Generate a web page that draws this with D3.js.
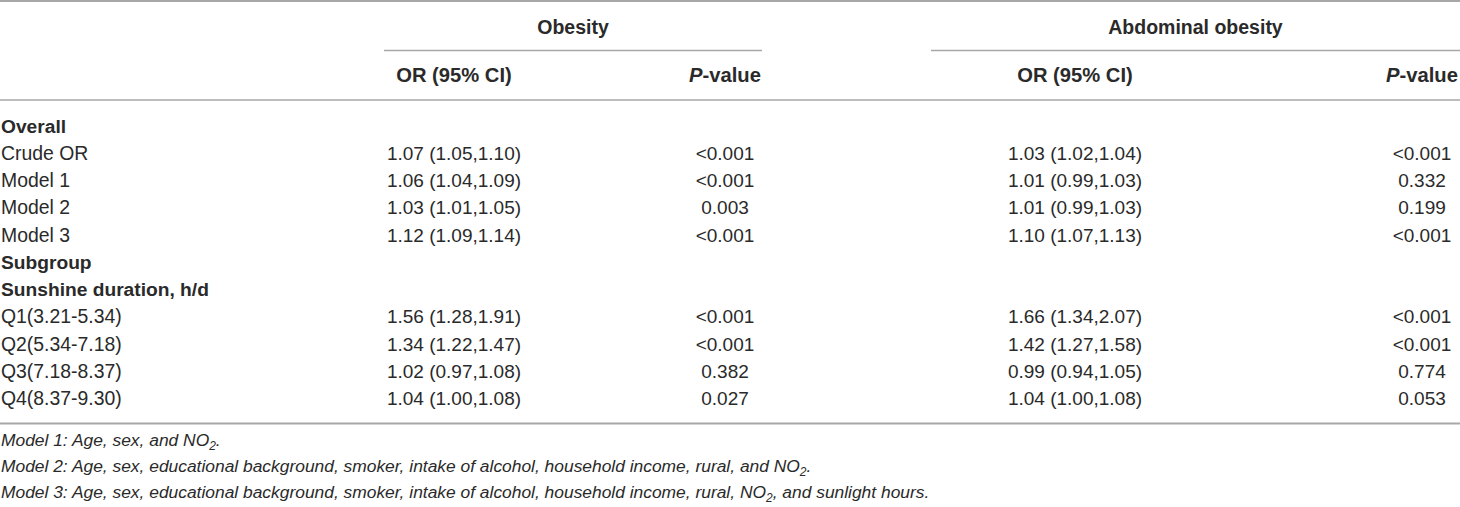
<!DOCTYPE html>
<html>
<head>
<meta charset="utf-8">
<script src="https://cdn.jsdelivr.net/npm/d3@7"></script>
<style>
  html, body { margin: 0; padding: 0; background: #fff; }
  svg { display: block; font-family: "Liberation Sans", Arial, Helvetica, sans-serif; }
</style>
</head>
<body>
<div id="chart"></div>
<script>
// ---- Data ----
const groupHeaders = ["Obesity", "Abdominal obesity"];
const columnHeaders = ["OR (95% CI)", "P-value", "OR (95% CI)", "P-value"];
const rowLabels = [
  "Overall", "Crude OR", "Model 1", "Model 2", "Model 3",
  "Subgroup", "Sunshine duration, h/d",
  "Q1(3.21-5.34)", "Q2(5.34-7.18)", "Q3(7.18-8.37)", "Q4(8.37-9.30)"
];
const sectionRows = ["Overall", "Subgroup", "Sunshine duration, h/d"];
const obesityOR = ["", "1.07 (1.05,1.10)", "1.06 (1.04,1.09)", "1.03 (1.01,1.05)", "1.12 (1.09,1.14)",
  "", "", "1.56 (1.28,1.91)", "1.34 (1.22,1.47)", "1.02 (0.97,1.08)", "1.04 (1.00,1.08)"];
const obesityP = ["", "<0.001", "<0.001", "0.003", "<0.001",
  "", "", "<0.001", "<0.001", "0.382", "0.027"];
const abdominalOR = ["", "1.03 (1.02,1.04)", "1.01 (0.99,1.03)", "1.01 (0.99,1.03)", "1.10 (1.07,1.13)",
  "", "", "1.66 (1.34,2.07)", "1.42 (1.27,1.58)", "0.99 (0.94,1.05)", "1.04 (1.00,1.08)"];
const abdominalP = ["", "<0.001", "0.332", "0.199", "<0.001",
  "", "", "<0.001", "<0.001", "0.774", "0.053"];
const footnotes = [
  ["Model 1: Age, sex, and NO", "2", "."],
  ["Model 2: Age, sex, educational background, smoker, intake of alcohol, household income, rural, and NO", "2", "."],
  ["Model 3: Age, sex, educational background, smoker, intake of alcohol, household income, rural, NO", "2", ", and sunlight hours."]
];

// ---- Layout ----
const W = 1460, H = 507;
const svg = d3.select("#chart").append("svg").attr("width", W).attr("height", H);

const colKeys = ["label", "obOR", "obP", "abOR", "abP"];
const colX = d3.scaleOrdinal().domain(colKeys).range([1, 454, 725, 1075, 1422]);
const groupSpan = [[384, 762], [931, 1460]];

const y = d3.scalePoint().domain(d3.range(rowLabels.length)).range([132.5, 405]);

const textColor = "#2a2a2a";
const lineColor = "#a7a7a7";

// rules
const rules = [
  {x1: 0, x2: W, y: 1, w: 2},
  {x1: groupSpan[0][0], x2: groupSpan[0][1], y: 50.5, w: 1.5},
  {x1: groupSpan[1][0], x2: groupSpan[1][1], y: 50.5, w: 1.5},
  {x1: 0, x2: W, y: 100, w: 1.5},
  {x1: 0, x2: W, y: 423.5, w: 2}
];
svg.selectAll("line.rule").data(rules).join("line")
  .attr("class", "rule")
  .attr("x1", d => d.x1).attr("x2", d => d.x2)
  .attr("y1", d => d.y).attr("y2", d => d.y)
  .attr("stroke", lineColor).attr("stroke-width", d => d.w);

// group headers
svg.selectAll("text.group").data(groupHeaders).join("text")
  .attr("class", "group")
  .attr("x", (d, i) => (groupSpan[i][0] + groupSpan[i][1]) / 2)
  .attr("y", 34)
  .attr("text-anchor", "middle")
  .attr("font-weight", "bold")
  .attr("font-size", 19.5)
  .attr("fill", textColor)
  .text(d => d);

// column headers
const headerKeys = ["obOR", "obP", "abOR", "abP"];
svg.selectAll("text.colhead").data(columnHeaders).join("text")
  .attr("class", "colhead")
  .attr("x", (d, i) => colX(headerKeys[i]))
  .attr("y", 82)
  .attr("text-anchor", "middle")
  .attr("font-weight", "bold")
  .attr("font-size", 20.2)
  .attr("fill", textColor)
  .each(function(d) {
    const t = d3.select(this);
    if (d.startsWith("P-")) {
      t.append("tspan").attr("font-style", "italic").text("P");
      t.append("tspan").text(d.slice(1));
    } else {
      t.text(d);
    }
  });

// row labels
svg.selectAll("text.rowlabel").data(rowLabels).join("text")
  .attr("class", "rowlabel")
  .attr("x", colX("label"))
  .attr("y", (d, i) => y(i))
  .attr("font-weight", d => sectionRows.includes(d) ? "bold" : "normal")
  .attr("font-size", d => sectionRows.includes(d) ? 19.2 : 19.4)
  .attr("fill", textColor)
  .text(d => d);

// data cells
const cols = [["obOR", obesityOR], ["obP", obesityP], ["abOR", abdominalOR], ["abP", abdominalP]];
cols.forEach(([key, vals]) => {
  svg.selectAll("text.cell-" + key).data(vals).join("text")
    .attr("class", "cell-" + key)
    .attr("x", colX(key))
    .attr("y", (d, i) => y(i))
    .attr("text-anchor", "middle")
    .attr("font-size", 19)
    .attr("fill", textColor)
    .text(d => d);
});

// footnotes
const fy = d3.scalePoint().domain(d3.range(footnotes.length)).range([446, 498]);
svg.selectAll("text.foot").data(footnotes).join("text")
  .attr("class", "foot")
  .attr("x", 1)
  .attr("y", (d, i) => fy(i))
  .attr("font-style", "italic")
  .attr("font-size", 17.4)
  .attr("fill", textColor)
  .each(function(d) {
    const t = d3.select(this);
    t.append("tspan").text(d[0]);
    t.append("tspan").attr("font-size", 12).attr("dy", 4).text(d[1]);
    t.append("tspan").attr("dy", -4).text(d[2]);
  });
</script>
</body>
</html>
